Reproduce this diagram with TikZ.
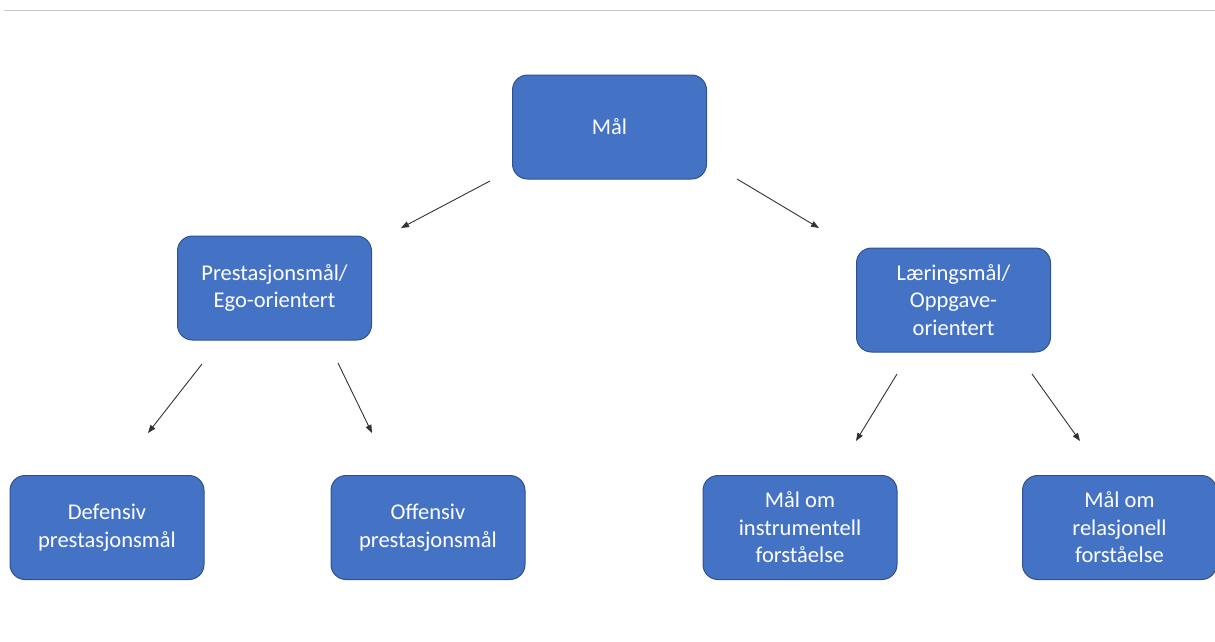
\documentclass[tikz,border=0pt]{standalone}
\usepackage{fontspec}
\setmainfont{Carlito}
\usetikzlibrary{arrows.meta}

\definecolor{boxblue}{HTML}{4472C4}
\definecolor{boxedge}{HTML}{2F528F}

\tikzset{
  goalbox/.style={draw=boxedge, line width=1pt, fill=boxblue, rounded corners=15pt,
    minimum width=194pt, minimum height=104pt, text=white, align=center,
    font=\fontsize{22.5}{27.5}\selectfont, inner sep=2pt},
  goalarrow/.style={draw=black!80, line width=0.9pt, -{Triangle[length=8pt,width=6pt]}}
}

\begin{document}
\begin{tikzpicture}[x=1pt,y=-1pt]
\useasboundingbox (0,0) rectangle (1215,641);
\draw[black!22, line width=1pt] (4,10) -- (1215,10);

\node[goalbox] (mal) at (609.5,127) {Mål};
\node[goalbox] (pres) at (274.5,288) {Prestasjonsmål/\\Ego-orientert};
\node[goalbox] (laer) at (953.5,300) {Læringsmål/\\Oppgave-\\orientert};
\node[goalbox] (def) at (107,527.5) {Defensiv\\prestasjonsmål};
\node[goalbox] (off) at (428,527.5) {Offensiv\\prestasjonsmål};
\node[goalbox] (instr) at (800,527.5) {Mål om\\instrumentell\\forståelse};
\node[goalbox] (rel) at (1119.5,527.5) {Mål om\\relasjonell\\forståelse};

\coordinate (malL) at (490,181);
\coordinate (presT) at (401,228);
\coordinate (malR) at (737,179);
\coordinate (laerT) at (819,228);
\coordinate (presL) at (202,364);
\coordinate (defT) at (148,433);
\coordinate (presR) at (338,363);
\coordinate (offT) at (372,433);
\coordinate (laerL) at (897,374);
\coordinate (instrT) at (856,441);
\coordinate (laerR) at (1032,374);
\coordinate (relT) at (1080,441);

\draw[goalarrow] (malL) -- (presT);
\draw[goalarrow] (malR) -- (laerT);
\draw[goalarrow] (presL) -- (defT);
\draw[goalarrow] (presR) -- (offT);
\draw[goalarrow] (laerL) -- (instrT);
\draw[goalarrow] (laerR) -- (relT);
\end{tikzpicture}
\end{document}
